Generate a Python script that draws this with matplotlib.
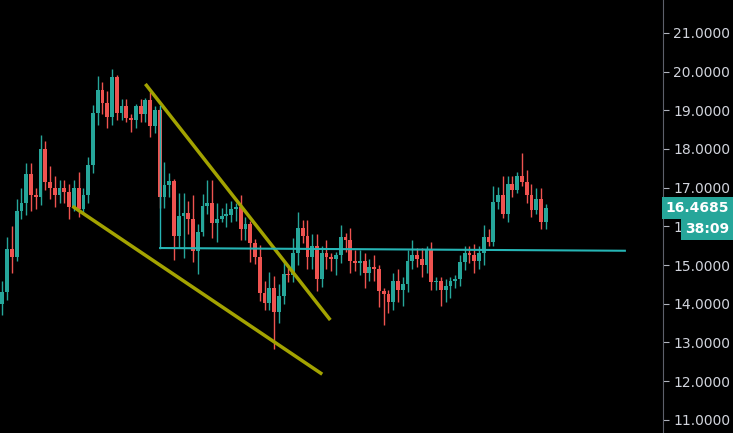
import matplotlib.pyplot as plt
from matplotlib.ticker import FormatStrFormatter

# candle data (open of each candle = previous close)
first_open = 14.0
closes = [14.3, 15.42, 15.2, 16.4, 16.6, 17.35, 16.8, 16.75, 18.0, 17.15, 17.0, 16.8, 17.0, 16.9, 16.5,
          17.0, 16.45, 16.8, 17.59, 18.93, 19.53, 19.2, 18.83, 19.87, 18.94, 19.1, 18.8, 18.75, 19.1, 18.9,
          19.27, 18.6, 19.0, 16.77, 17.07, 17.17, 15.74, 16.27, 16.35, 16.2, 15.37, 15.86, 16.53, 16.6, 16.09,
          16.2, 16.28, 16.3, 16.45, 16.5, 15.94, 16.05, 15.58, 15.22, 14.28, 14.03, 14.41, 13.79, 14.2, 14.77,
          14.75, 15.3, 15.96, 15.76, 15.2, 15.5, 14.64, 15.3, 15.2, 15.15, 15.25, 15.73, 15.65, 15.1, 15.05,
          15.1, 14.8, 14.95, 14.9, 14.32, 14.25, 14.05, 14.6, 14.35, 14.5, 15.1, 15.25, 15.15, 15.0, 15.4,
          14.55, 14.6, 14.35, 14.45, 14.6, 14.65, 15.07, 15.3, 15.25, 15.1, 15.3, 15.73, 15.6, 16.64, 16.81,
          16.32, 17.1, 16.95, 17.3, 17.15, 16.8, 16.43, 16.7, 16.12, 16.4685]
up_wick = [0.3, 0.3, 0.6, 0.3, 0.4, 0.3, 0.3, 0.2, 0.35, 0.2, 0.4, 0.3, 0.2, 0.2, 0.2,
           0.2, 0.4, 0.2, 0.2, 0.2, 0.35, 0.2, 0.3, 0.2, 0.05, 0.2, 0.2, 0.1, 0.05, 0.2,
           0.05, 0.2, 0.1, 0.05, 0.6, 0.2, 0.05, 0.6, 0.5, 0.3, 0.6, 0.2, 0.3, 0.6, 0.6,
           0.4, 0.2, 0.3, 0.2, 0.1, 0.3, 0.2, 0.1, 0.1, 0.3, 0.3, 0.4, 0.3, 0.3, 0.3,
           0.15, 0.4, 0.4, 0.2, 0.4, 0.3, 0.3, 0.2, 0.35, 0.1, 0.1, 0.3, 0.1, 0.3, 0.3,
           0.3, 0.2, 0.2, 0.3, 0.1, 0.1, 0.1, 0.2, 0.3, 0.2, 0.3, 0.4, 0.2, 0.3, 0.1,
           0.2, 0.1, 0.1, 0.2, 0.1, 0.1, 0.2, 0.2, 0.2, 0.3, 0.2, 0.3, 0.2, 0.4, 0.2,
           0.5, 0.2, 0.2, 0.1, 0.6, 0.3, 0.3, 0.3, 0.3, 0.1]
low_wick = [0.3, 0.2, 0.4, 0.1, 0.2, 0.3, 0.4, 0.3, 0.2, 0.2, 0.3, 0.3, 0.2, 0.3, 0.3,
            0.1, 0.2, 0.1, 0.2, 0.2, 0.3, 0.3, 0.3, 0.2, 0.2, 0.2, 0.1, 0.3, 0.2, 0.2,
            0.2, 0.3, 0.2, 0.3, 0.3, 0.3, 0.6, 0.3, 1.1, 0.4, 0.3, 0.6, 0.1, 0.2, 0.4,
            0.5, 0.1, 0.3, 0.2, 0.3, 0.3, 0.3, 0.5, 0.2, 0.2, 0.2, 0.2, 0.95, 0.3, 0.2,
            0.2, 0.2, 0.3, 0.2, 0.3, 0.3, 0.3, 0.2, 0.3, 0.3, 0.4, 0.2, 0.3, 0.3, 0.2,
            0.3, 0.4, 0.2, 0.3, 0.4, 0.8, 0.3, 0.2, 0.3, 0.4, 0.2, 0.2, 0.2, 0.3, 0.2,
            0.2, 0.2, 0.4, 0.3, 0.3, 0.2, 0.2, 0.2, 0.2, 0.3, 0.2, 0.3, 0.1, 0.1, 0.2,
            0.1, 0.2, 0.2, 0.1, 0.1, 0.2, 0.2, 0.1, 0.2, 0.2]

# trend lines (index, price)
upper_line = ([30.0, 68.8], [19.68, 13.58])
lower_line = ([14.7, 67.1], [16.52, 12.18])
level_line = ([33.1, 130.6], [15.44, 15.37])
level_stem = ([33.1, 33.1], [15.44, 19.1])

last_price = 16.4685
countdown = "38:09"
yticks = [11, 12, 13, 14, 15, 16, 17, 18, 19, 20, 21]

GREEN = "#26a69a"
RED = "#ef5350"
YMIN, YMAX = 10.66, 21.85

fig = plt.figure(figsize=(7.33, 4.33), dpi=100, facecolor="black")
ax = fig.add_axes([0, 0, 663 / 733, 1], facecolor="black")

opens = [first_open] + closes[:-1]
for i, (o, c) in enumerate(zip(opens, closes)):
    col = GREEN if c >= o else RED
    hi = max(o, c) + up_wick[i]
    lo = min(o, c) - low_wick[i]
    ax.vlines(i, lo, hi, color=col, linewidth=1)
    h = max(abs(c - o), 0.03)
    ax.bar(i, h, bottom=min(o, c), width=0.8, color=col, linewidth=0)

ax.plot(*upper_line, color="#a3a300", linewidth=2.5, solid_capstyle="butt")
ax.plot(*lower_line, color="#a3a300", linewidth=2.5, solid_capstyle="butt")
ax.plot(*level_line, color="#26b5b5", linewidth=1.5)
ax.plot(*level_stem, color="#26b5b5", linewidth=1)

ax.set_xlim(-0.5, 138.6)
ax.set_ylim(YMIN, YMAX)
ax.set_xticks([])
ax.yaxis.tick_right()
ax.set_yticks(yticks)
ax.yaxis.set_major_formatter(FormatStrFormatter("%.4f"))
ax.tick_params(axis="y", colors="#b2b5be", labelcolor="#d1d4dc", labelsize=10, length=4, direction="out")
for s in ["left", "top", "bottom"]:
    ax.spines[s].set_visible(False)
ax.spines["right"].set_color("#5d606b")

price_y = (last_price - YMIN) / (YMAX - YMIN)
fig.text(0.995, price_y, f"{last_price:.4f}", color="white", fontsize=10, fontweight="bold",
         va="center", ha="right", bbox=dict(boxstyle="square,pad=0.3", fc=GREEN, ec="none"))
fig.text(0.995, price_y - 0.048, countdown, color="white", fontsize=10, fontweight="bold",
         va="center", ha="right", bbox=dict(boxstyle="square,pad=0.3", fc=GREEN, ec="none"))

fig.savefig("out.png", facecolor="black")
